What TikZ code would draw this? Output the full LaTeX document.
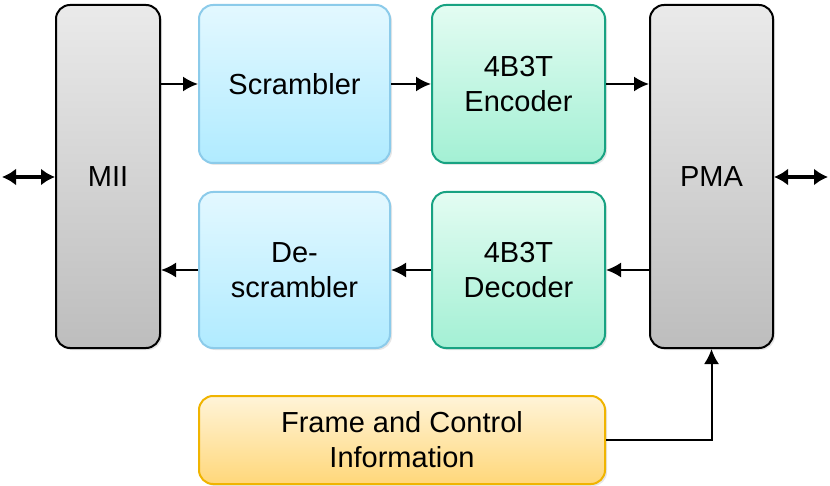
\documentclass[tikz,border=0pt]{standalone}
\usepackage{fontspec}
\setmainfont{Liberation Sans}
\usetikzlibrary{arrows.meta}
\usetikzlibrary{shadows}
\definecolor{grayTop}{HTML}{EAEAEA}
\definecolor{grayBot}{HTML}{BDBDBD}
\definecolor{blueTop}{HTML}{E3F8FF}
\definecolor{blueBot}{HTML}{B0EBFF}
\definecolor{blueLine}{HTML}{8CCBEA}
\definecolor{greenTop}{HTML}{E3FCF2}
\definecolor{greenBot}{HTML}{A3F0D4}
\definecolor{greenLine}{HTML}{18A282}
\definecolor{yellowTop}{HTML}{FFF4D8}
\definecolor{yellowBot}{HTML}{FFD77A}
\definecolor{yellowLine}{HTML}{F0B400}
\tikzset{
	blocknode/.style = {
		align=center,
		inner sep=0pt,
		rounded corners=7pt,
		font=\fontsize{14.5}{17.5}\selectfont,
		drop shadow={opacity=0.2, shadow xshift=1pt, shadow yshift=-1pt}
	},
	node_side/.style = {
		blocknode,
		draw=black,
		line width=1pt,
		top color=grayTop,
		bottom color=grayBot,
		minimum height=171.5pt
	},
	node_scr/.style = {
		blocknode,
		draw=blueLine,
		line width=1pt,
		top color=blueTop,
		bottom color=blueBot,
		minimum width=95.5pt
	},
	node_code/.style = {
		blocknode,
		draw=greenLine,
		line width=1pt,
		top color=greenTop,
		bottom color=greenBot,
		minimum width=86.5pt
	},
	node_info/.style = {
		blocknode,
		draw=yellowLine,
		line width=1pt,
		top color=yellowTop,
		bottom color=yellowBot,
		minimum width=203pt,
		minimum height=44pt
	},
	flow/.style = {
		-{Latex[length=7.5pt,width=7.5pt]},
		line width=1pt
	},
	bothway/.style = {
		{Latex[length=7pt,width=8.5pt]}-{Latex[length=7pt,width=8.5pt]},
		line width=2pt
	},
}

\begin{document}
\begin{tikzpicture}[x=0.5pt,y=-0.5pt]
\useasboundingbox (0,0) rectangle (830,486);
% side blocks
\node [node_side, minimum width=52pt] (mii) at (108,176.5) {MII};
\node [node_side, minimum width=61.5pt] (pma) at (711.5,176.5) {PMA};
% transmit path
\node [node_scr, minimum height=79pt] (scr) at (294.5,84) {Scrambler};
\node [node_code, minimum height=79pt] (enc) at (518.5,84) {4B3T\\Encoder};
% receive path
\node [node_scr, minimum height=78pt] (dscr) at (294.5,270) {De-\\scrambler};
\node [node_code, minimum height=78pt] (dec) at (518.5,270) {4B3T\\Decoder};
% frame info
\node [node_info] (frm) at (402,440) {Frame and Control\\Information};
\coordinate (left_end) at (2,177);
\coordinate (right_end) at (828,177);

\draw [flow] (mii.east |- scr.west) -- (scr.west);
\draw [flow] (scr.east) -- (enc.west);
\draw [flow] (enc.east) -- (pma.west |- enc.east);
\draw [flow] (pma.west |- dec.east) -- (dec.east);
\draw [flow] (dec.west) -- (dscr.east);
\draw [flow] (dscr.west) -- (mii.east |- dscr.west);
\draw [flow] (frm.east) -| (pma.south);
\draw [bothway] (left_end) -- (mii.west |- left_end);
\draw [bothway] (pma.east |- right_end) -- (right_end);
\end{tikzpicture}
\end{document}
